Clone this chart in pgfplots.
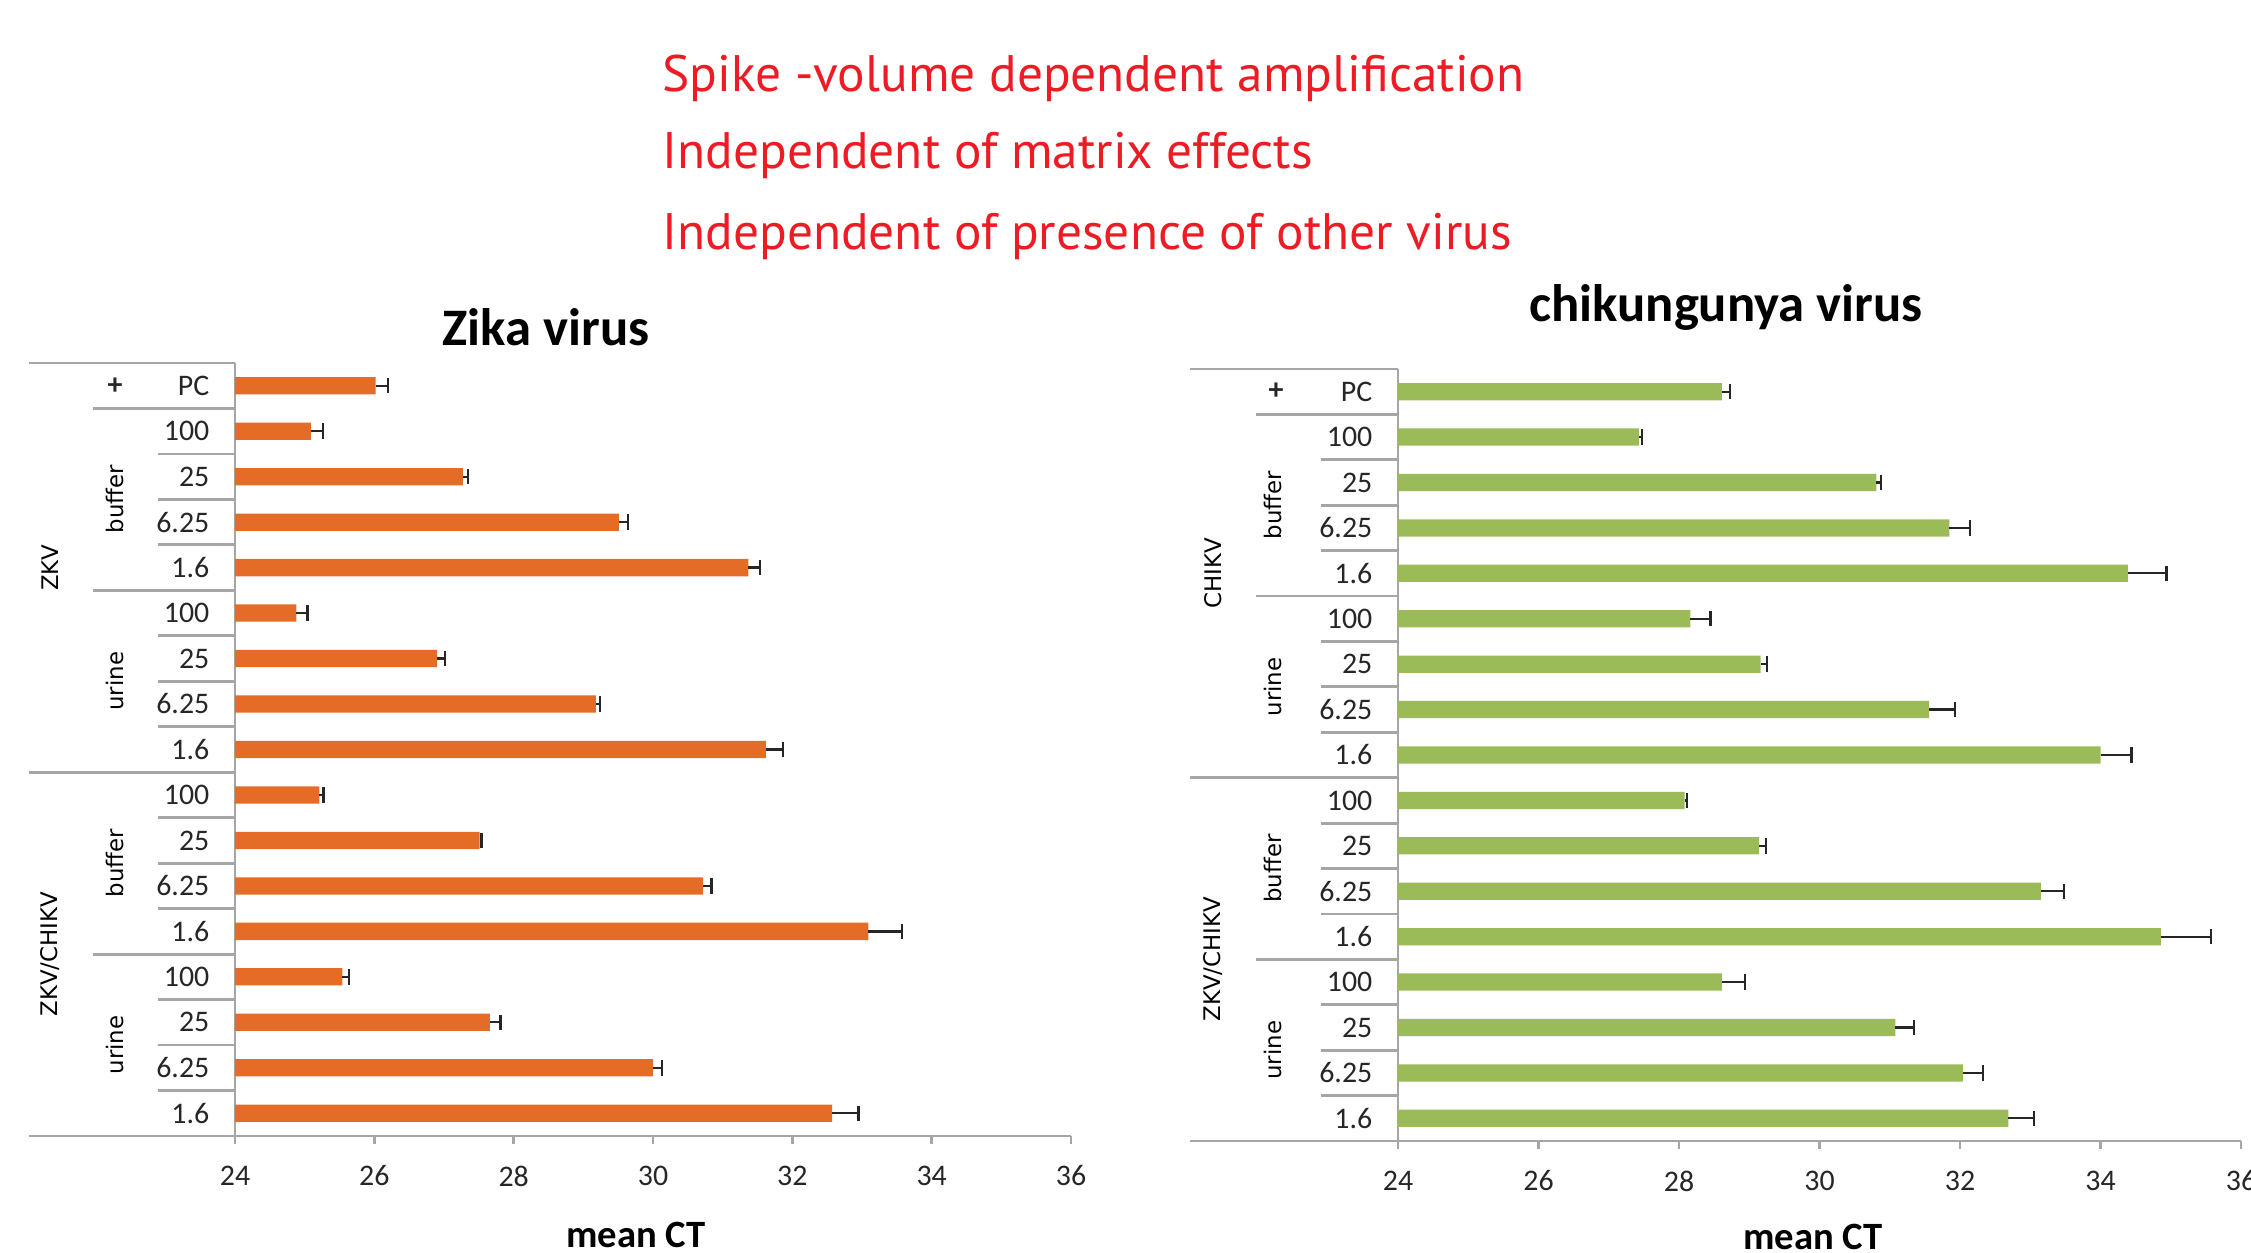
\documentclass[border=0pt]{standalone}
\usepackage{fontspec}
\setmainfont{Carlito}
\newfontfamily\dejavu{DejaVu Sans}
\newfontfamily\ptsans{PT Sans}
\usepackage{pgfplots}
\pgfplotsset{compat=1.18}
\usepackage{pgfplotstable}

\definecolor{zorange}{HTML}{E46C27}
\definecolor{cgreen}{HTML}{9BBB59}
\definecolor{redtxt}{HTML}{ED1C24}
\definecolor{axgray}{HTML}{A6A6A6}

% y = 16 (PC, top) ... 0 (last row, bottom)
\pgfplotstableread{
y x err
16 26.02 0.18
15 25.09 0.17
14 27.27 0.07
13 29.51 0.13
12 31.37 0.17
11 24.88 0.16
10 26.90 0.11
9 29.18 0.06
8 31.62 0.25
7 25.21 0.06
6 27.51 0.03
5 30.72 0.12
4 33.09 0.48
3 25.54 0.10
2 27.66 0.15
1 30.00 0.13
0 32.57 0.38
}\zika

\pgfplotstableread{
y x err
16 28.61 0.12
15 27.43 0.04
14 30.81 0.07
13 31.85 0.29
12 34.39 0.55
11 28.16 0.29
10 29.16 0.09
9 31.56 0.37
8 34.00 0.44
7 28.08 0.03
6 29.14 0.10
5 33.15 0.33
4 34.86 0.71
3 28.61 0.33
2 31.08 0.27
1 32.04 0.29
0 32.69 0.36
}\chik

\newcommand{\tickfont}{\fontsize{8.5}{10}\selectfont}
\newcommand{\grpfont}{\dejavu\fontsize{6.5}{8}\selectfont}

\tikzset{sep/.style={axgray, line width=0.8pt}}

\pgfplotsset{
  ctchart/.style={
    scale only axis,
    xmin=24, xmax=36, ymin=-0.5, ymax=16.5,
    xtick={24,26,...,36},
    ytick={0,...,16},
    yticklabels={1.6,6.25,25,100,1.6,6.25,25,100,1.6,6.25,25,100,1.6,6.25,25,100,PC},
    /pgf/number format/assume math mode=true,
    axis x line*=bottom, axis y line*=left,
    axis line style={axgray, line width=0.8pt},
    x tick style={axgray, line width=0.8pt},
    major tick length=0.08cm, tick align=outside,
    y tick style={draw=none},
    xticklabel style={font=\tickfont, text=black!85, anchor=north, inner sep=0pt, yshift=-0.21cm},
    yticklabel style={font=\tickfont, text=black!85, anchor=east, inner sep=0pt, xshift=-0.17cm},
    clip mode=individual,
    xbar, bar width=0.38, bar shift=0pt,
  },
  errstyle/.style={
    error bars/.cd, x dir=plus, x explicit,
    error bar style={black!85, line width=0.65pt},
    error mark options={black!85, line width=0.65pt, mark size=2.2pt, rotate=90},
  },
}

\begin{document}
\begin{tikzpicture}
\path (0,0) rectangle (22.51,12.52);

% headline text
\node[anchor=base west, text=redtxt, font=\ptsans\fontsize{14.6}{16}\selectfont, inner sep=0pt] at (6.62,11.60) {Spike -volume dependent amplification};
\node[anchor=base west, text=redtxt, font=\ptsans\fontsize{14.6}{16}\selectfont, inner sep=0pt] at (6.62,10.83) {Independent of matrix effects};
\node[anchor=base west, text=redtxt, font=\ptsans\fontsize{14.6}{16}\selectfont, inner sep=0pt] at (6.62,10.02) {Independent of presence of other virus};

% titles and axis labels
\node[font=\bfseries\fontsize{15}{18}\selectfont] at (5.46,9.25) {Zika virus};
\node[font=\bfseries\fontsize{15}{18}\selectfont] at (17.26,9.45) {chikungunya virus};
\node[font=\bfseries\fontsize{11}{13}\selectfont] at (6.36,0.17) {mean CT};
\node[font=\bfseries\fontsize{11}{13}\selectfont] at (18.13,0.15) {mean CT};

% ---------------- Zika ----------------
\begin{axis}[ctchart, at={(2.35cm,1.16cm)}, anchor=south west, width=8.36cm, height=7.73cm]
\addplot[fill=zorange, draw=none, errstyle]
  table[x=x, y=y, x error=err] {\zika};
\draw[sep] ([xshift=-2.06cm]axis cs:24,16.5) -- (axis cs:24,16.5);
\draw[sep] ([xshift=-2.06cm]axis cs:24,7.5) -- (axis cs:24,7.5);
\draw[sep] ([xshift=-2.06cm]axis cs:24,-0.5) -- (axis cs:24,-0.5);
\pgfplotsinvokeforeach{15.5,11.5,3.5}{\draw[sep] ([xshift=-1.42cm]axis cs:24,#1) -- (axis cs:24,#1);}
\pgfplotsinvokeforeach{14.5,13.5,12.5,10.5,9.5,8.5,6.5,5.5,4.5,2.5,1.5,0.5}{\draw[sep] ([xshift=-0.77cm]axis cs:24,#1) -- (axis cs:24,#1);}
\node[font=\bfseries\tickfont, text=black!85] at ([xshift=-1.20cm]axis cs:24,16) {+};
\node[font=\grpfont, rotate=90] at ([xshift=-1.20cm]axis cs:24,13.5) {buffer};
\node[font=\grpfont, rotate=90] at ([xshift=-1.20cm]axis cs:24,9.5) {urine};
\node[font=\grpfont, rotate=90] at ([xshift=-1.20cm]axis cs:24,5.5) {buffer};
\node[font=\grpfont, rotate=90] at ([xshift=-1.20cm]axis cs:24,1.5) {urine};
\node[font=\grpfont, rotate=90] at ([xshift=-1.85cm]axis cs:24,12) {ZKV};
\node[font=\grpfont, rotate=90] at ([xshift=-1.85cm]axis cs:24,3.5) {ZKV/CHIKV};
\end{axis}

% ---------------- CHIKV ----------------
\begin{axis}[ctchart, at={(13.98cm,1.11cm)}, anchor=south west, width=8.43cm, height=7.72cm]
\addplot[fill=cgreen, draw=none, errstyle]
  table[x=x, y=y, x error=err] {\chik};
\draw[sep] ([xshift=-2.08cm]axis cs:24,16.5) -- (axis cs:24,16.5);
\draw[sep] ([xshift=-2.08cm]axis cs:24,7.5) -- (axis cs:24,7.5);
\draw[sep] ([xshift=-2.08cm]axis cs:24,-0.5) -- (axis cs:24,-0.5);
\pgfplotsinvokeforeach{15.5,11.5,3.5}{\draw[sep] ([xshift=-1.42cm]axis cs:24,#1) -- (axis cs:24,#1);}
\pgfplotsinvokeforeach{14.5,13.5,12.5,10.5,9.5,8.5,6.5,5.5,4.5,2.5,1.5,0.5}{\draw[sep] ([xshift=-0.77cm]axis cs:24,#1) -- (axis cs:24,#1);}
\node[font=\bfseries\tickfont, text=black!85] at ([xshift=-1.22cm]axis cs:24,16) {+};
\node[font=\grpfont, rotate=90] at ([xshift=-1.25cm]axis cs:24,13.5) {buffer};
\node[font=\grpfont, rotate=90] at ([xshift=-1.25cm]axis cs:24,9.5) {urine};
\node[font=\grpfont, rotate=90] at ([xshift=-1.25cm]axis cs:24,5.5) {buffer};
\node[font=\grpfont, rotate=90] at ([xshift=-1.25cm]axis cs:24,1.5) {urine};
\node[font=\grpfont, rotate=90] at ([xshift=-1.85cm]axis cs:24,12) {CHIKV};
\node[font=\grpfont, rotate=90] at ([xshift=-1.85cm]axis cs:24,3.5) {ZKV/CHIKV};
\end{axis}

\pgfresetboundingbox
\path[use as bounding box] (0,0) rectangle (22.51,12.52);
\end{tikzpicture}
\end{document}
